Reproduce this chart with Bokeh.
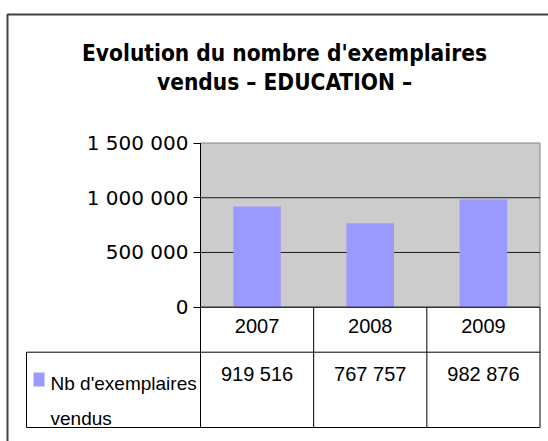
from bokeh.plotting import figure
from bokeh.models import Range1d, FixedTicker, BoxAnnotation, Label
from bokeh.embed import file_html
from bokeh.resources import INLINE
from bokeh.core.properties import value

# ---- data ----
title_lines = ["Evolution du nombre d'exemplaires", "vendus \u2013 EDUCATION \u2013"]
years = ["2007", "2008", "2009"]
copies = [919516, 767757, 982876]
series_lines = ["Nb d'exemplaires", "vendus"]
y_ticks = [0, 500000, 1000000, 1500000]
y_tick_labels = ["0", "500 000", "1 000 000", "1 500 000"]
value_labels = [f"{v:,}".replace(",", " ") for v in copies]

# ---- style / layout (pixel geometry of the page) ----
BAR = "#9999FF"
W, H = 548, 441
PX_L, PX_R, PX_T, PX_Z = 200.0, 539.5, 142.5, 306.7     # plot area
PX_HEAD, PX_BOT, PX_LEG = 351.7, 427.0, 26.0            # table
YMAX = y_ticks[-1]
ncat = len(years)
ux = (PX_R - PX_L) / ncat
uy = (PX_Z - PX_T) / YMAX


def dx(px):
    return (px - PX_L) / ux


def dy(py):
    return (PX_Z - py) / uy


xc = [i + 0.5 for i in range(ncat)]        # category centres
xb = [float(i) for i in range(ncat + 1)]   # category boundaries

TABLE_FONT = "Liberation Sans"

p = figure(width=W, height=H, x_range=Range1d(dx(0), dx(W)), y_range=Range1d(dy(H), dy(0)),
           output_backend="svg", toolbar_location=None,
           min_border_left=0, min_border_right=0, min_border_top=0, min_border_bottom=0,
           background_fill_color="white", border_fill_color="white", outline_line_color=None)
p.xaxis.visible = False
p.xgrid.visible = False
p.ygrid.visible = False

ya = p.yaxis[0]
ya.fixed_location = 0
ya.ticker = FixedTicker(ticks=y_ticks)
ya.major_label_overrides = dict(zip(y_ticks, y_tick_labels))
ya.major_label_text_font = "DejaVu Sans"
ya.major_label_text_font_size = "20px"
ya.major_label_text_color = "black"
ya.major_tick_in = 0
ya.major_tick_out = 7
ya.minor_tick_line_color = None
ya.major_label_standoff = 5
ya.axis_line_color = None
ya.major_tick_line_color = "black"

# plot area background and gridlines
p.quad(left=[xb[0]], right=[xb[-1]], bottom=[y_ticks[0]], top=[YMAX],
       fill_color="#CCCCCC", line_color="#808080", line_width=1)
p.segment(x0=[xb[0]] * 2, x1=[xb[-1]] * 2, y0=y_ticks[1:3], y1=y_ticks[1:3],
          line_color="#1a1a1a", line_width=1)

# bars
p.vbar(x=xc, top=copies, width=0.42, fill_color=BAR, line_color=None)

# axis line + table grid
ybot, yhead = dy(PX_BOT), dy(PX_HEAD)
p.segment(x0=[xb[0]], x1=[xb[0]], y0=[YMAX], y1=[ybot], line_color="black")
p.segment(x0=xb[1:], x1=xb[1:], y0=[0] * ncat, y1=[ybot] * ncat, line_color="black")
p.segment(x0=[xb[0], dx(PX_LEG), dx(PX_LEG)], x1=[xb[-1]] * 3, y0=[0, yhead, ybot],
          y1=[0, yhead, ybot], line_color="black")
p.segment(x0=[dx(PX_LEG)], x1=[dx(PX_LEG)], y0=[yhead], y1=[ybot], line_color="black")

# table texts
p.text(x=xc, y=[dy(325.5)] * ncat, text=years, text_align="center",
       text_baseline="middle", text_font=value(TABLE_FONT), text_font_size="20px",
       text_color="black")
p.text(x=xc, y=[dy(373)] * ncat, text=value_labels, text_align="center",
       text_baseline="middle", text_font=value(TABLE_FONT), text_font_size="20px",
       text_color="black")

# legend key inside the table
p.add_layout(BoxAnnotation(left=dx(33), right=dx(44), top=dy(372), bottom=dy(386),
                           fill_color=BAR, fill_alpha=1, line_color=None))
for txt, py in zip(series_lines, [383.0, 417.5]):
    p.add_layout(Label(x=dx(50), y=dy(py), text=txt, text_align="left",
                       text_baseline="alphabetic", text_font=TABLE_FONT,
                       text_font_size="19px", text_color="black"))

# title
for txt, py in zip(title_lines, [52.5, 81.5]):
    p.add_layout(Label(x=dx(284), y=dy(py), text=txt, text_align="center",
                       text_baseline="alphabetic", text_font="DejaVu Sans Condensed",
                       text_font_style="bold", text_font_size="22.5px", text_color="black"))

# outer chart border
p.add_layout(BoxAnnotation(left=dx(7), right=dx(W + 20), top=dy(14), bottom=dy(H + 20),
                           fill_alpha=0, line_color="#404040", line_alpha=1, line_width=2))

open("out.html", "w").write(file_html(p, INLINE))
